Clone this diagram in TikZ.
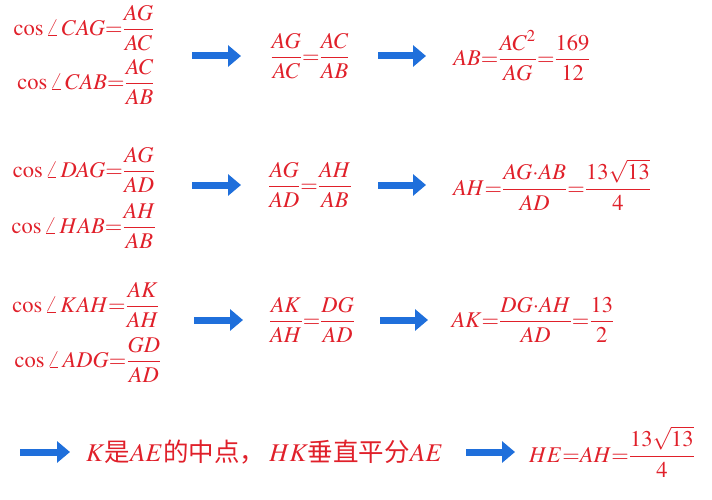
\documentclass[tikz,border=0pt]{standalone}
\usepackage{amsmath}
\usepackage{mathptmx}
\usepackage{fontspec}
\setmainfont{Liberation Serif}
\newfontfamily\cjk{Noto Sans CJK SC}
\usetikzlibrary{arrows.meta}
\definecolor{tred}{HTML}{E0202A}
\definecolor{tblue}{HTML}{1F6FDB}
\begin{document}
\begin{tikzpicture}[x=1pt,y=-1pt,
  txt/.style={text=tred,font=\fontsize{22.5}{26}\selectfont,inner sep=0pt},
  barrow/.style={draw=tblue,line width=7pt,-{Triangle[length=13pt,width=21pt]}}]
\useasboundingbox (0,0) rectangle (712,500);
% row 1
\node[txt] (c1) at (84,28) {$\cos\angle\, CAG{=}\dfrac{AG}{AC}$};
\node[txt] (c2) at (86,82) {$\cos\angle\, CAB{=}\dfrac{AC}{AB}$};
\node[txt] (m1) at (310,56) {$\dfrac{AG}{AC}{=}\dfrac{AC}{AB}$};
\node[txt] (r1) at (522,56) {$AB{=}\dfrac{AC^2}{AG}{=}\dfrac{169}{12}$};
\coordinate (a1s) at (192,56); \coordinate (a1e) at (241,56);
\coordinate (b1s) at (378,56); \coordinate (b1e) at (426,56);
\draw[barrow] (a1s) -- (a1e); \draw[barrow] (b1s) -- (b1e);
% row 2
\node[txt] (c3) at (84,170) {$\cos\angle\, DAG{=}\dfrac{AG}{AD}$};
\node[txt] (c4) at (84,226) {$\cos\angle\, HAB{=}\dfrac{AH}{AB}$};
\node[txt] (m2) at (310,185) {$\dfrac{AG}{AD}{=}\dfrac{AH}{AB}$};
\node[txt] (r2) at (552,185) {$AH{=}\dfrac{AG{\cdot}AB}{AD}{=}\dfrac{13\sqrt{13}}{4}$};
\coordinate (a2s) at (192,185); \coordinate (a2e) at (241,185);
\coordinate (b2s) at (378,185); \coordinate (b2e) at (426,185);
\draw[barrow] (a2s) -- (a2e); \draw[barrow] (b2s) -- (b2e);
% row 3
\node[txt] (c5) at (86,305) {$\cos\angle\, KAH{=}\dfrac{AK}{AH}$};
\node[txt] (c6) at (88,360) {$\cos\angle\, ADG{=}\dfrac{GD}{AD}$};
\node[txt] (m3) at (312,320) {$\dfrac{AK}{AH}{=}\dfrac{DG}{AD}$};
\node[txt] (r3) at (533,320) {$AK{=}\dfrac{DG{\cdot}AH}{AD}{=}\dfrac{13}{2}$};
\coordinate (a3s) at (194,320); \coordinate (a3e) at (243,320);
\coordinate (b3s) at (380,320); \coordinate (b3e) at (428,320);
\draw[barrow] (a3s) -- (a3e); \draw[barrow] (b3s) -- (b3e);
% row 4
\coordinate (a4s) at (20,452); \coordinate (a4e) at (70,452);
\draw[barrow] (a4s) -- (a4e);
\node[txt,anchor=west] (t4) at (86,452) {\fontsize{25.5}{29}\selectfont$K$\cjk 是\normalfont$AE$\cjk 的中点，\,\normalfont$HK$\cjk 垂直平分\normalfont$AE$};
\coordinate (b4s) at (466,452); \coordinate (b4e) at (515,452);
\draw[barrow] (b4s) -- (b4e);
\node[txt] (r4) at (612,452) {$HE{=}AH{=}\dfrac{13\sqrt{13}}{4}$};
\end{tikzpicture}
\end{document}
